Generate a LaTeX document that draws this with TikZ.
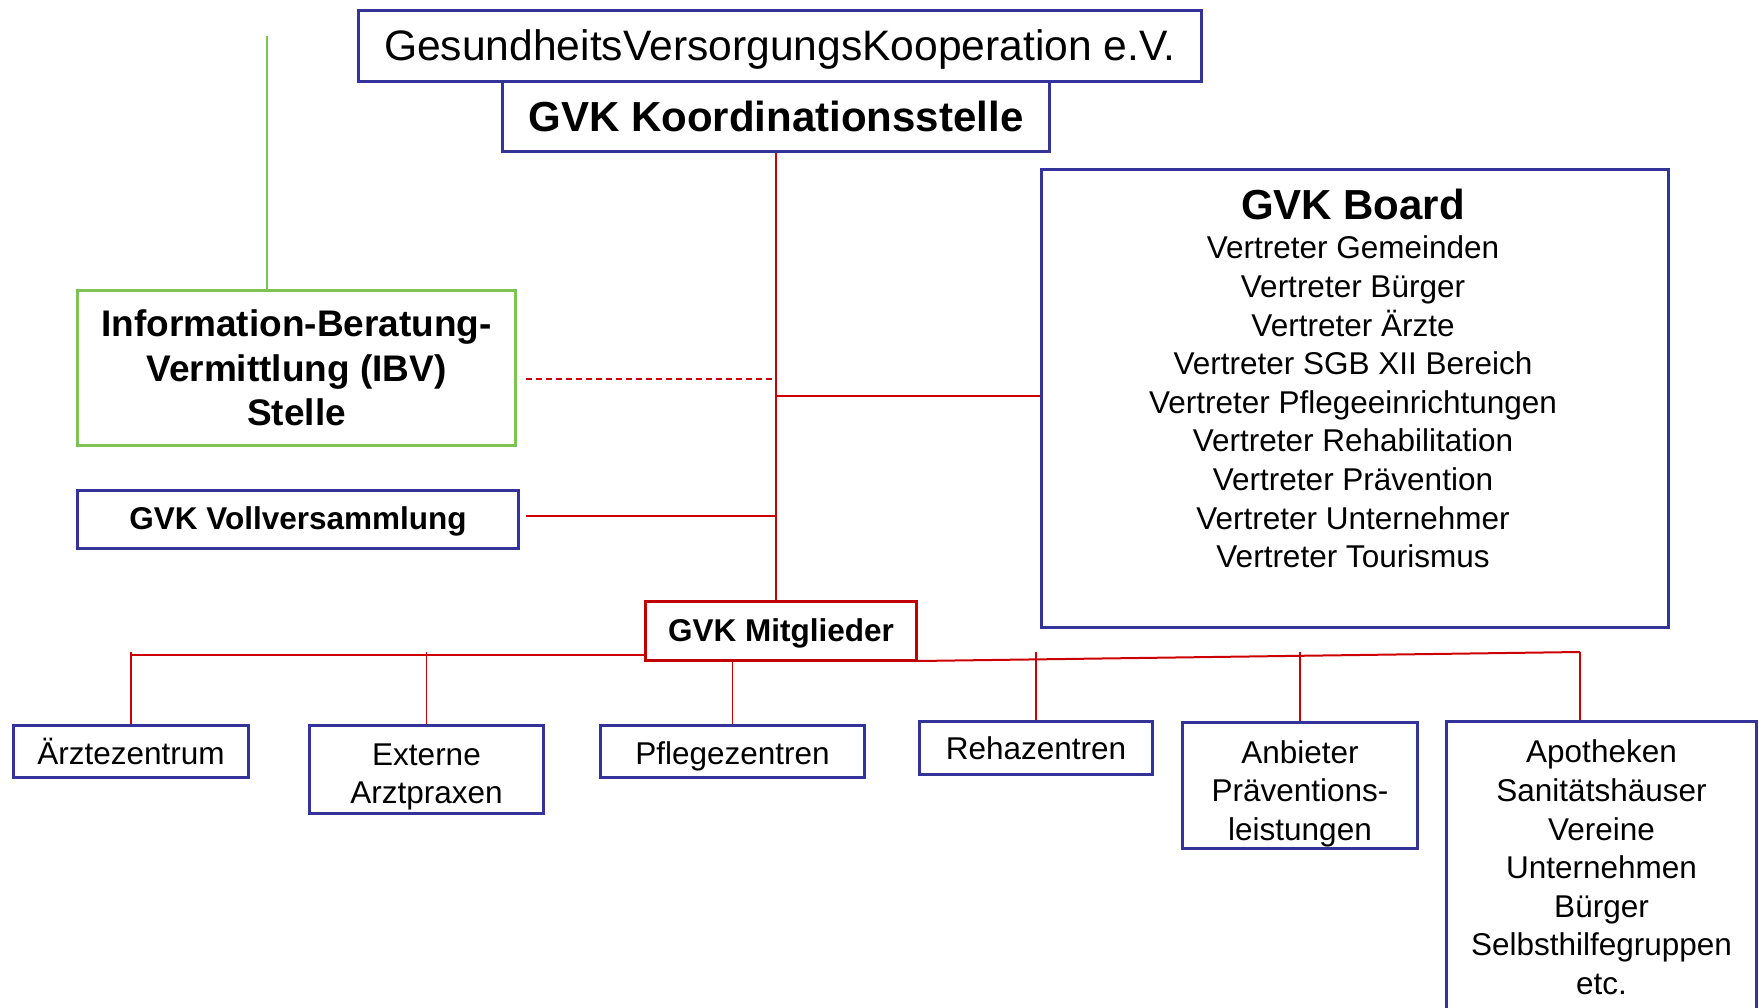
\documentclass[tikz,border=0pt]{standalone}
\usepackage{fontspec}
\setmainfont{Liberation Sans}
\definecolor{gblue}{RGB}{51,51,153}
\definecolor{rred}{RGB}{204,0,0}
\definecolor{mred}{RGB}{192,0,0}
\definecolor{ggreen}{RGB}{128,194,82}
\tikzset{
  box/.style={draw=gblue, line width=3pt, fill=white, inner sep=0pt, anchor=north west, align=center},
  regA/.style={font=\fontsize{42.6}{50}\selectfont},
  bfA/.style={font=\fontsize{42}{50}\selectfont\bfseries},
  bfB/.style={font=\fontsize{37}{44.5}\selectfont\bfseries},
  regC/.style={font=\fontsize{31.5}{38.6}\selectfont},
  bfC/.style={font=\fontsize{31.5}{38.6}\selectfont\bfseries},
  rline/.style={draw=rred, line width=1.6pt},
  rdash/.style={draw=rred, line width=1.6pt, dash pattern=on 6pt off 4pt},
  gline/.style={draw=ggreen, line width=1.6pt}
}
\begin{document}
\begin{tikzpicture}[x=1pt,y=-1pt]
\useasboundingbox (0,0) rectangle (1759,1008);
% top boxes
\node[box, regA, text height=38pt, minimum width=843, minimum height=71] (gvk) at (357,9) {GesundheitsVersorgungsKooperation e.V.};
\node[box, bfA, minimum width=547, minimum height=70] (koord) at (501,80) {GVK Koordinationsstelle};
% left boxes
\node[box, bfB, draw=ggreen, minimum width=438, minimum height=155] (ibv) at (76,289) {Information-Beratung-\\Vermittlung (IBV)\\Stelle};
\node[box, bfC, text height=27.5pt, minimum width=441, minimum height=58] (voll) at (76,489) {GVK Vollversammlung};
% board
\node[box, minimum width=627, minimum height=458] (board) at (1040,168) {};
\node[bfA, inner sep=0pt] (boardtitle) at (1353,204) {GVK Board};
\node[regC, align=center, inner sep=0pt] (boardtxt) at (1353,402) {Vertreter Gemeinden\\Vertreter Bürger\\Vertreter Ärzte\\Vertreter SGB XII Bereich\\Vertreter Pflegeeinrichtungen\\Vertreter Rehabilitation\\Vertreter Prävention\\Vertreter Unternehmer\\Vertreter Tourismus};
% members
\node[box, bfC, text height=27.5pt, draw=mred, minimum width=271, minimum height=59] (mitgl) at (644,600) {GVK Mitglieder};
% children
\node[box, regC, minimum width=235, minimum height=52] (aerzte) at (12,724) {Ärztezentrum};
\node[box, regC, text height=75pt, minimum width=234, minimum height=88] (extern) at (308,724) {Externe\\Arztpraxen};
\node[box, regC, text height=32pt, minimum width=264, minimum height=52] (pflege) at (599,724) {Pflegezentren};
\node[box, regC, minimum width=233, minimum height=53] (reha) at (918,720) {Rehazentren};
\node[box, regC, text height=116pt, minimum width=235, minimum height=126] (anbieter) at (1181,721) {Anbieter\\Präventions-\\leistungen};
\node[box, regC, minimum width=310, minimum height=292] (apo) at (1445,720) {Apotheken\\Sanitätshäuser\\Vereine\\Unternehmen\\Bürger\\Selbsthilfegruppen\\etc.};
% connectors
\coordinate (gtop) at (267,36);
\draw[gline] (gtop) -- (gtop |- ibv.north);
\draw[rline] (koord.south) -- (koord.south |- mitgl.north);
\coordinate (dashR) at (772,379);
\draw[rdash] (ibv.east |- dashR) ++(9,0) -- (dashR);
\draw[rline] (koord.south |- 0,396) -- (board.west |- 0,396);
\draw[rline] (voll.east |- 0,516) ++(6,0) -- (koord.south |- 0,516);
% bus
\coordinate (busL) at (130,655);
\coordinate (busR) at (1580,652);
\coordinate (bustop) at (0,652);
\draw[rline, line width=2pt] (busL) -- (busL -| mitgl.west);
\draw[rline, line width=2pt] (mitgl.south east) ++(0,-1) -- (busR);
\foreach \n in {aerzte,extern,reha,anbieter}
  \draw[rline] (\n.north) -- (\n.north |- bustop);
\draw[rline] (mitgl.south -| pflege.north) -- (pflege.north);
\draw[rline] (busR) -- (busR |- apo.north);
\end{tikzpicture}
\end{document}
